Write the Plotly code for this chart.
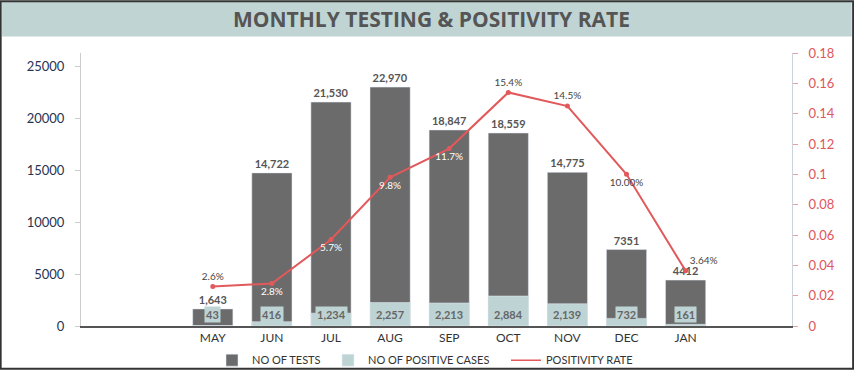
import plotly.graph_objects as go

months = ["MAY", "JUN", "JUL", "AUG", "SEP", "OCT", "NOV", "DEC", "JAN"]
tests = [1643, 14722, 21530, 22970, 18847, 18559, 14775, 7351, 4412]
tests_text = ["1,643", "14,722", "21,530", "22,970", "18,847", "18,559", "14,775", "7351", "4412"]
positives = [43, 416, 1234, 2257, 2213, 2884, 2139, 732, 161]
positives_text = ["43", "416", "1,234", "2,257", "2,213", "2,884", "2,139", "732", "161"]
rate = [0.026, 0.028, 0.057, 0.098, 0.117, 0.154, 0.145, 0.100, 0.0364]
rate_text = ["2.6%", "2.8%", "5.7%", "9.8%", "11.7%", "15.4%", "14.5%", "10.00%", "3.64%"]

DARK = "#6b6b6b"
LIGHT = "#bed3d3"
RED = "#e2595b"
FONT = "Lato"

rate_pos = ["top center", "bottom center", "bottom center", "bottom center", "bottom center",
            "top center", "top center", "bottom center", "top right"]
rate_col = ["#444", "white", "white", "white", "white", "#444", "#444", "#444", "#444"]

fig = go.Figure()
fig.add_trace(go.Bar(x=months, y=tests, name="NO OF TESTS", marker_color=DARK, width=0.68,
                     text=["<b>" + t + "</b>" for t in tests_text], textposition="outside",
                     cliponaxis=False,
                     textfont=dict(family=FONT, size=11, color="#555"),
                     hoverinfo="skip", legend="legend"))
fig.add_trace(go.Bar(x=months, y=positives, name="NO OF POSITIVE CASES", marker_color=LIGHT,
                     width=0.68, hoverinfo="skip", legend="legend2"))
fig.add_trace(go.Scatter(x=months, y=rate, yaxis="y2", name="POSITIVITY RATE",
                         mode="lines+markers+text", line=dict(color=RED, width=2),
                         marker=dict(size=5, color=RED),
                         text=rate_text, textposition=rate_pos,
                         textfont=dict(family=FONT, size=10, color=rate_col),
                         cliponaxis=False, hoverinfo="skip", showlegend=False))
fig.add_trace(go.Scatter(x=[None], y=[None], yaxis="y2", name="POSITIVITY RATE", mode="lines",
                         line=dict(color=RED, width=1.5), legend="legend3"))

label_y = 1100
for m, t in zip(months, positives_text):
    fig.add_annotation(x=m, y=label_y, text="<b>" + t + "</b>", showarrow=False,
                       bgcolor=LIGHT, font=dict(family=FONT, size=11, color="#666"),
                       borderpad=1)

# title band and frame
fig.add_shape(type="rect", xref="paper", yref="paper", x0=-0.111, x1=1.084, y0=1.06, y1=1.188,
              fillcolor="#bfd4d3", line_width=0, layer="below")
fig.add_shape(type="rect", xref="paper", yref="paper", x0=-0.113, x1=1.086, y0=-0.157, y1=1.19,
              fillcolor="rgba(0,0,0,0)", line=dict(color="#333", width=2))
fig.add_annotation(xref="paper", yref="paper", x=0.493, y=1.126, yanchor="middle",
                   text="<b>MONTHLY TESTING &amp; POSITIVITY RATE</b>",
                   showarrow=False, font=dict(family="Open Sans", size=21, color="#555"))

leg_common = dict(orientation="h", yanchor="middle", y=-0.125, xanchor="left",
                  font=dict(family=FONT, size=11, color="#333"), itemwidth=30,
                  bgcolor="rgba(0,0,0,0)")
fig.update_layout(
    width=854, height=370,
    margin=dict(l=81, r=62, t=53, b=44, autoexpand=False),
    barmode="overlay",
    plot_bgcolor="white", paper_bgcolor="white",
    showlegend=True,
    legend=dict(leg_common, x=(212 - 81) / 711),
    legend2=dict(leg_common, x=(328 - 81) / 711),
    legend3=dict(leg_common, x=(506 - 81) / 711),
    xaxis=dict(type="category", range=[-2.23, 9.8], showgrid=False,
               showline=True, linecolor="#555", linewidth=1.5,
               tickfont=dict(family=FONT, size=12, color="#333"), ticks=""),
    yaxis=dict(range=[0, 26250], tickvals=[0, 5000, 10000, 15000, 20000, 25000],
               ticktext=["0", "5000", "10000", "15000", "20000", "25000"],
               showgrid=False, zeroline=False, showline=True, linecolor="#ccc",
               ticks="outside", ticklen=5, tickcolor="#ccc", ticklabelstandoff=8,
               tickfont=dict(family=FONT, size=13, color="#283352")),
    yaxis2=dict(overlaying="y", side="right", range=[0, 0.18], dtick=0.02, tick0=0,
                showgrid=False, zeroline=False, showline=True, linecolor="#ccd3df",
                ticks="outside", ticklen=5, tickcolor="#e8a0a0", ticklabelstandoff=8,
                tickfont=dict(family=FONT, size=13, color="#e0555a")),
)

fig.write_html("out.html", post_script="document.body.style.margin='0';",
               config={"displayModeBar": False})
